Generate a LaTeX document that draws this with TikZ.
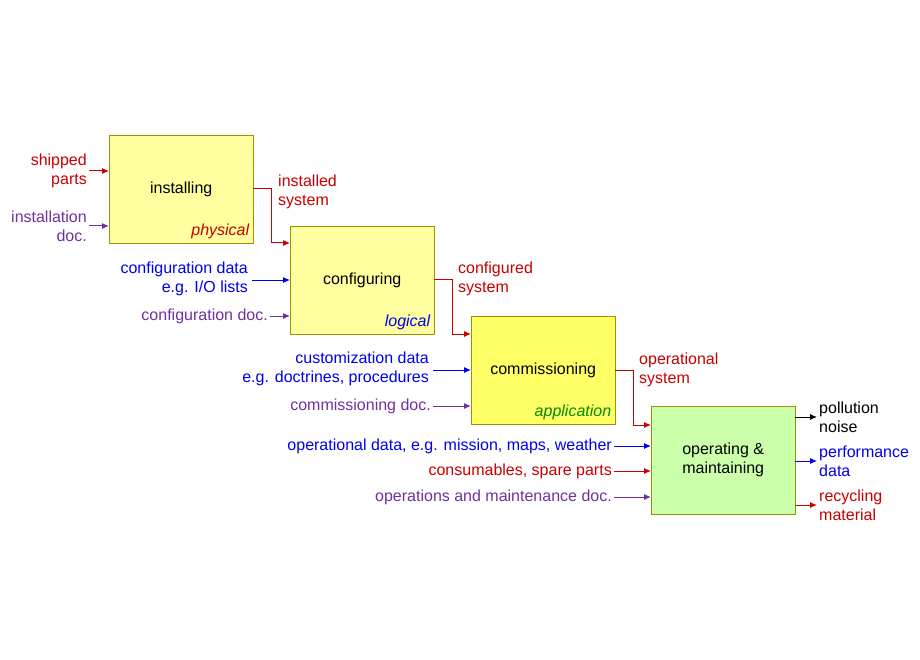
\documentclass[tikz,border=0pt]{standalone}
\usepackage{fontspec}
\setmainfont{Liberation Sans}
\usetikzlibrary{arrows.meta}
\definecolor{myred}{RGB}{200,0,0}
\definecolor{myblue}{RGB}{0,0,240}
\definecolor{mypurple}{RGB}{112,48,160}
\definecolor{mygreen}{RGB}{0,140,0}
\definecolor{boxline}{RGB}{150,150,0}
\tikzset{
  every node/.style={font=\fontsize{16}{19}\selectfont},
  phase/.style={draw=boxline, minimum width=144pt, minimum height=108pt, anchor=north west, inner sep=0pt},
  lbl/.style={align=right, anchor=east, inner sep=2pt},
  rlbl/.style={align=left, anchor=west, inner sep=2pt},
  tag/.style={anchor=south east, font=\fontsize{16}{19}\selectfont\itshape, inner sep=4pt},
  arr/.style={-{Latex[length=7pt,width=6pt]}, line width=1pt},
}
\begin{document}
\begin{tikzpicture}[x=1pt,y=-1pt]
\useasboundingbox (0,0) rectangle (920,660);
% phases
\node[phase, fill={rgb,255:red,255;green,255;blue,160}] (inst) at (109,135) {installing};
\node[phase, fill={rgb,255:red,255;green,255;blue,160}] (conf) at (290,226) {configuring};
\node[phase, fill={rgb,255:red,255;green,255;blue,102}] (comm) at (471,316) {commissioning};
\node[phase, fill={rgb,255:red,204;green,255;blue,170}, align=center] (oper) at (651,406) {operating \&\\maintaining};
\node[tag, myred] at (inst.south east) {physical};
\node[tag, myblue] at (conf.south east) {logical};
\node[tag, mygreen] at (comm.south east) {application};
% between phases
\draw[arr, myred] (inst.east |- 0,189) -| (271,243) -- (conf.west |- 0,243);
\draw[arr, myred] (conf.east |- 0,279) -| (452,334) -- (comm.west |- 0,334);
\draw[arr, myred] (comm.east |- 0,370) -| (633,425) -- (oper.west |- 0,425);
\node[rlbl, myred] at (276,192) {installed\\system};
\node[rlbl, myred] at (456,279) {configured\\system};
\node[rlbl, myred] at (637,370) {operational\\system};
% inputs
\coordinate (i1) at (89,171); \coordinate (i2) at (89,226);
\draw[arr, myred] (i1) -- (inst.west |- i1);
\draw[arr, mypurple] (i2) -- (inst.west |- i2);
\node[lbl, myred] at (i1) {shipped\\parts};
\node[lbl, mypurple] at (i2) {installation\\doc.};
\coordinate (c1) at (252,280); \coordinate (c2) at (270,316);
\draw[arr, myblue] (c1) -- (conf.west |- c1);
\draw[arr, mypurple] (c2) -- (conf.west |- c2);
\node[lbl, myblue] at (250,279) {configuration data\\e.g. I/O lists};
\node[lbl, mypurple] at (c2) {configuration doc.};
\coordinate (m1) at (433,370); \coordinate (m2) at (433,406);
\draw[arr, myblue] (m1) -- (comm.west |- m1);
\draw[arr, mypurple] (m2) -- (comm.west |- m2);
\node[lbl, myblue] at (431,369) {customization data\\e.g. doctrines, procedures};
\node[lbl, mypurple] at (m2) {commissioning doc.};
\coordinate (o1) at (614,446); \coordinate (o2) at (614,471); \coordinate (o3) at (614,497);
\draw[arr, myblue] (o1) -- (oper.west |- o1);
\draw[arr, myred] (o2) -- (oper.west |- o2);
\draw[arr, mypurple] (o3) -- (oper.west |- o3);
\node[lbl, myblue] at (o1) {operational data, e.g. mission, maps, weather};
\node[lbl, myred] at (o2) {consumables, spare parts};
\node[lbl, mypurple] at (o3) {operations and maintenance doc.};
% outputs
\coordinate (p1) at (817,417); \coordinate (p2) at (817,461); \coordinate (p3) at (817,505);
\draw[arr, black] (oper.east |- p1) -- (p1);
\draw[arr, myblue] (oper.east |- p2) -- (p2);
\draw[arr, myred] (oper.east |- p3) -- (p3);
\node[rlbl, black] at (p1) {pollution\\noise};
\node[rlbl, myblue] at (p2) {performance\\data};
\node[rlbl, myred] at (p3) {recycling\\material};
\end{tikzpicture}
\end{document}
